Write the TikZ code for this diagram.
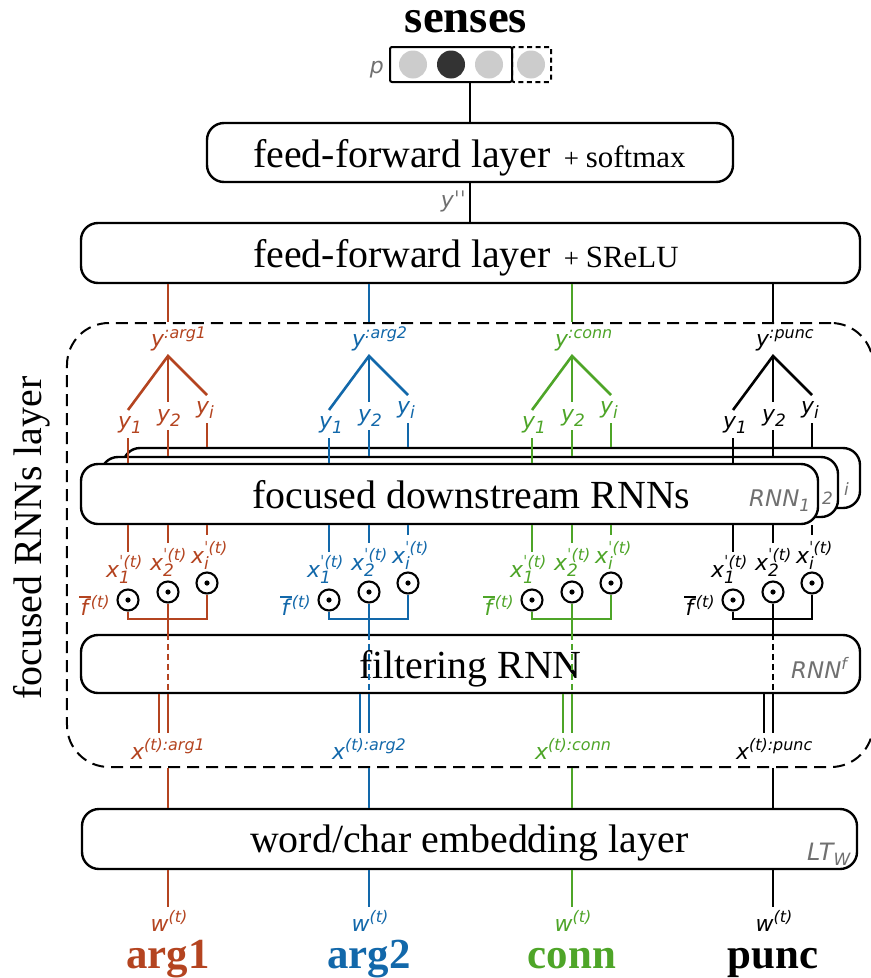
\documentclass[tikz,border=0pt]{standalone}
\usepackage{fontspec}
\setmainfont{Liberation Serif}
\newfontfamily\lf{DejaVu Sans}
\definecolor{carg1}{RGB}{180,68,32}
\definecolor{carg2}{RGB}{18,104,170}
\definecolor{cconn}{RGB}{78,165,40}
\definecolor{cgray}{RGB}{112,112,112}
\definecolor{clight}{RGB}{204,204,204}
\definecolor{cdark}{RGB}{51,51,51}
\newcommand\labBig[1]{{\fontsize{22}{22}\selectfont #1}}
\newcommand\labSup[2][8]{\raisebox{#1bp}{\fontsize{16}{16}\selectfont #2}}
\newcommand\labSub[2][5]{\raisebox{-#1bp}{\fontsize{17}{17}\selectfont #2}}
\newcommand\labRNN[1]{{\fontsize{23}{23}\selectfont RNN}\labSub[5]{#1}}
\newcommand\fbarlab{\rlap{\raisebox{17bp}{\rule{12bp}{1.6bp}}}\hspace{1.5bp}f\hspace{2.5bp}}
\tikzset{
  box/.style={draw, line width=2.4bp, rounded corners=17bp, fill=white, inner sep=0},
  mtext/.style={font=\fontsize{40}{40}\selectfont, inner sep=0},
  bold/.style={font=\bfseries\fontsize{43}{43}\selectfont, inner sep=0},
  lab/.style={font=\lf\itshape, inner sep=0},
  glab/.style={font=\lf\itshape, text=cgray, inner sep=0},
  cl/.style={line width=2.6bp},
  bl/.style={line width=2.4bp},
  odot/.style={circle, draw, line width=2.1bp, minimum size=21bp, inner sep=0, fill=white},
  dotc/.style={circle, minimum size=28bp, inner sep=0}
}
\begin{document}
\begin{tikzpicture}[x=1bp,y=-1bp]
\useasboundingbox (0,0) rectangle (871,978);
\fill[white] (0,0) rectangle (871,978);

% top: senses
\node[bold, font=\bfseries\fontsize{47}{47}\selectfont, anchor=base, text height=22bp] (senses) at (466,32) {senses};
\node[draw, line width=2bp, rounded corners=2bp, minimum width=122bp, minimum height=35bp, inner sep=0] (vec) at (451,64.5) {};
\node[draw, line width=2bp, dash pattern=on 5bp off 3.5bp, rounded corners=2bp, minimum width=39bp, minimum height=35bp, inner sep=0] (vecx) at (531.5,64.5) {};
\node[dotc, fill=clight] (p1) at (413,64.5) {};
\node[dotc, fill=cdark] (p2) at (451,64.5) {};
\node[dotc, fill=clight] (p3) at (489,64.5) {};
\node[dotc, fill=clight] (p4) at (531,64.5) {};
\node[glab, anchor=base east] (plab) at (384,73) {\labBig{p}};

% feed-forward + softmax
\node[box, minimum width=526bp, minimum height=59bp] (ffs) at (470,152.5) {};
\node[mtext, anchor=base west] (ffst) at (253,167) {feed-forward layer\hspace{13bp}{\fontsize{27}{27}\selectfont +}\hspace{7bp}{\fontsize{31}{31}\selectfont softmax}};
\draw[bl] (vec.south -| ffs.north) -- (ffs.north);

% feed-forward + SReLU
\node[box, minimum width=779bp, minimum height=60bp] (srelu) at (470.5,253) {};
\node[mtext, anchor=base west] (srelut) at (253,267) {feed-forward layer\hspace{13bp}{\fontsize{27}{27}\selectfont +}\hspace{7bp}{\fontsize{31}{31}\selectfont SReLU}};
\draw[bl] (ffs.south) -- (ffs.south |- srelu.north);
\node[glab, anchor=base east] (ypp) at (466,207) {\labBig{yˈˈ}};

% focused RNNs layer (dashed)
\node[draw, line width=2bp, dash pattern=on 12bp off 7bp, rounded corners=42bp, minimum width=806bp, minimum height=444bp, inner sep=0] (focus) at (470,545) {};
\node[mtext, rotate=90, anchor=base] (focuslab) at (41,538) {focused RNNs layer};

% stacked RNN boxes
\node[box, minimum width=737bp, minimum height=60bp] (rnn3) at (491.5,478) {};
\node[glab, anchor=base west] (rnn3l) at (844,490) {\labSub[5]{i}};
\node[box, minimum width=737bp, minimum height=60bp] (rnn2) at (469.5,487) {};
\node[glab, anchor=base west] (rnn2l) at (822,499) {\labSub[5]{2}};
\node[box, minimum width=737bp, minimum height=60bp] (rnn1) at (449.5,494) {};
\node[glab, anchor=base west] (rnn1l) at (749,506) {\labRNN{1}};
\node[mtext, anchor=base west] (rnnt) at (252,508) {focused downstream RNNs};

% filtering RNN
\node[box, minimum width=779bp, minimum height=58bp] (filt) at (470.5,664) {};
\node[mtext, anchor=base west] (filtt) at (359,678) {filtering RNN};
\node[glab, anchor=base west] (filtl) at (791,678) {{\fontsize{23}{23}\selectfont RNN}\labSup[9]{f}};

% embedding
\node[box, minimum width=775bp, minimum height=60bp] (emb) at (469.5,839) {};
\node[mtext, anchor=base west] (embt) at (250,852) {word/char embedding layer};
\node[glab, anchor=base west] (embl) at (807,860) {{\fontsize{24}{24}\selectfont LT}\labSub[5]{W}};

% columns
\foreach \i/\X/\C/\N in {1/168/carg1/arg1, 2/369/carg2/arg2, 3/572/cconn/conn, 4/773/black/punc} {
  \coordinate (ap\i) at (\X,356);
  \draw[\C, cl] (srelu.south -| ap\i) -- (focus.north -| ap\i);
  \node[lab, text=\C, anchor=base west] (ytop\i) at (\X-17,346) {\labBig{y}\labSup[8]{:\N}};
  \coordinate (ea\i) at (\X-40,410);
  \coordinate (eb\i) at (\X,402);
  \coordinate (ec\i) at (\X+39,395);
  \draw[\C, cl] (ea\i) -- (ap\i) -- (ec\i);
  \draw[\C, cl] (ap\i) -- (eb\i);
  \node[lab, text=\C, anchor=base west] (ya\i) at (\X-50,428) {\labBig{y}\labSub{1}};
  \node[lab, text=\C, anchor=base west] (yb\i) at (\X-11,421) {\labBig{y}\labSub{2}};
  \node[lab, text=\C, anchor=base west] (yc\i) at (\X+28,413) {\labBig{y}\labSub{i}};
  \coordinate (ta\i) at (\X-40,438);
  \coordinate (tb\i) at (\X,430);
  \coordinate (tc\i) at (\X+39,423);
  \draw[\C, cl] (ta\i) -- (ta\i |- rnn1.north);
  \draw[\C, cl] (tb\i) -- (tb\i |- rnn2.north);
  \draw[\C, cl] (tc\i) -- (tc\i |- rnn3.north);
  % below the RNN stack
  \coordinate (la\i) at (\X-40,552);
  \coordinate (lb\i) at (\X,543);
  \coordinate (lc\i) at (\X+39,535);
  \draw[\C, cl] (la\i |- rnn1.south) -- (la\i);
  \draw[\C, cl] (lb\i |- rnn1.south) -- (lb\i);
  \draw[\C, cl] (lc\i |- rnn1.south) -- (lc\i);
  \node[lab, text=\C, anchor=base west] (xa\i) at (\X-62,577) {\labBig{x}\rlap{\labSub[6]{1}}\labSup[10]{ˈ(t)}};
  \node[lab, text=\C, anchor=base west] (xb\i) at (\X-18,570) {\labBig{x}\rlap{\labSub[6]{2}}\labSup[10]{ˈ(t)}};
  \node[lab, text=\C, anchor=base west] (xc\i) at (\X+23,563) {\labBig{x}\rlap{\labSub[6]{i}}\labSup[10]{ˈ(t)}};
  \node[odot] (oa\i) at (\X-40,600) {};
  \node[odot] (ob\i) at (\X,592) {};
  \node[odot] (oc\i) at (\X+39,583) {};
  \fill (oa\i) circle (2.6bp);
  \fill (ob\i) circle (2.6bp);
  \fill (oc\i) circle (2.6bp);
  \node[lab, text=\C, anchor=base west] (fb\i) at (\X-89,615) {\labBig{\fbarlab}\labSup[8]{(t)}};
  \coordinate (bar\i) at (\X,619);
  \draw[\C, cl] (oa\i.south) |- (bar\i) -| (oc\i.south);
  \draw[\C, cl] (ob\i.south) -- (ob\i.south |- filt.north);
  \draw[\C, cl, dash pattern=on 6bp off 4bp] (ob\i.south |- filt.north) -- (ob\i.south |- filt.south);
  \coordinate (dd\i) at (\X,733);
  \draw[\C, cl] (dd\i |- filt.south) -- (dd\i);
  \draw[\C, cl] ([xshift=-9bp]dd\i |- filt.south) -- ([xshift=-9bp]dd\i);
  \node[lab, text=\C, anchor=base west] (xin\i) at (\X-37,759) {\labBig{x}\labSup[9]{(t):\N}};
  \draw[\C, cl] (focus.south -| ap\i) -- (emb.north -| ap\i);
  \coordinate (we\i) at (\X,907);
  \draw[\C, cl] (emb.south -| ap\i) -- (we\i);
  \node[lab, text=\C, anchor=base] (w\i) at (\X+1,931) {\labBig{w}\labSup[9]{(t)}};
  \node[bold, text=\C, anchor=base] (nm\i) at (\X,968) {\N};
}
\end{tikzpicture}
\end{document}
